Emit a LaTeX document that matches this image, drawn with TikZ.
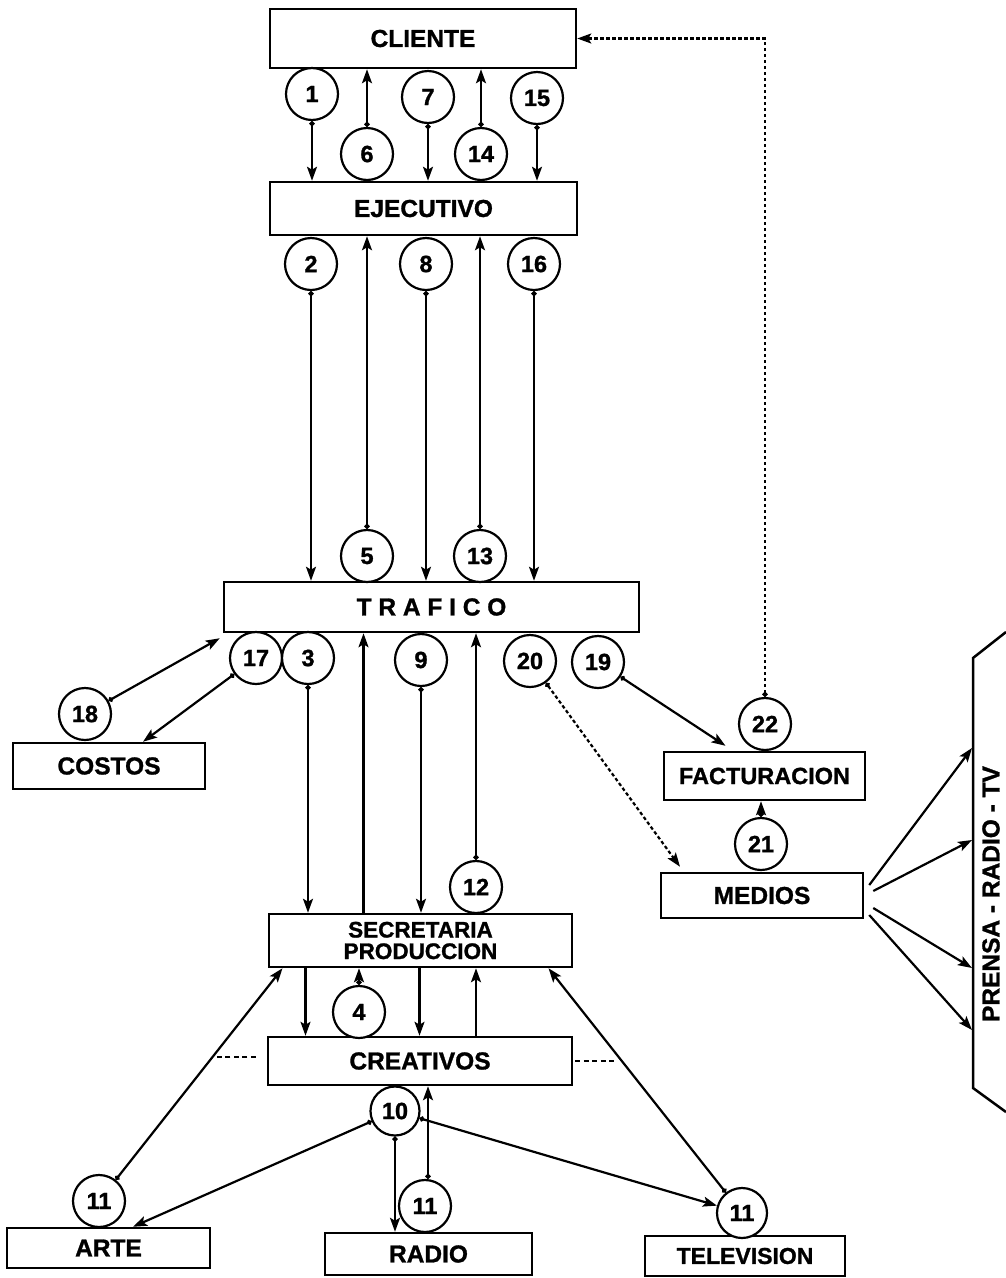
\documentclass[tikz,border=0pt]{standalone}
\usepackage{fontspec}
\setmainfont{Liberation Sans}[BoldFeatures={FakeBold=1.2}]
\usetikzlibrary{arrows.meta,calc}
\begin{document}
\begin{tikzpicture}[x=1pt,y=-1pt,
  box/.style={draw,line width=2.5pt,inner sep=0pt,align=center,font=\bfseries\fontsize{24.5}{24}\selectfont},
  num/.style={draw,circle,fill=white,line width=2.2pt,minimum size=52pt,inner sep=0pt,font=\bfseries\fontsize{23.5}{24}\selectfont},
  arr/.style={line width=2.2pt,{Circle[length=5pt]}-{Stealth[length=14pt,width=10pt,inset=3pt]}},
  arrp/.style={line width=2.2pt,-{Stealth[length=14pt,width=10pt,inset=3pt]}},
  darr/.style={line width=2.2pt,dash pattern=on 3.5pt off 2.5pt,{Circle[length=5pt]}-{Stealth[length=14pt,width=10pt,inset=3pt]}},
  dline/.style={line width=2pt,dash pattern=on 5pt off 3.5pt}
]
\useasboundingbox (0,0) rectangle (1006,1278);

% boxes
\node[box,minimum width=306pt,minimum height=59pt] (cliente) at (423,38.5) {CLIENTE};
\node[box,minimum width=307pt,minimum height=53pt] (ejecutivo) at (423.5,208.5) {EJECUTIVO};
\node[box,minimum width=415pt,minimum height=50pt] (trafico) at (431.5,607) {T R A F I C O};
\node[box,minimum width=192pt,minimum height=46pt] (costos) at (109,766) {COSTOS};
\node[box,minimum width=201pt,minimum height=48pt,font=\bfseries\fontsize{23.5}{24}\selectfont] (facturacion) at (764.5,776) {FACTURACION};
\node[box,minimum width=202pt,minimum height=45pt] (medios) at (762,895.5) {MEDIOS};
\node[box,minimum width=303pt,minimum height=53pt,font=\bfseries\fontsize{22.5}{21.5}\selectfont] (secretaria) at (420.5,940.5) {SECRETARIA\\PRODUCCION};
\node[box,minimum width=304pt,minimum height=48pt] (creativos) at (420,1061) {CREATIVOS};
\node[box,minimum width=203pt,minimum height=40pt] (arte) at (108.5,1248) {ARTE};
\node[box,minimum width=207pt,minimum height=42pt] (radio) at (428.5,1254) {RADIO};
\node[box,minimum width=200pt,minimum height=40pt,font=\bfseries\fontsize{23}{24}\selectfont] (television) at (745,1256) {TELEVISION};

% media box (cut by the page edge)
\draw[line width=2.5pt] (1006,632) -- (973,658) -- (973,1088) -- (1006,1112);
\node[rotate=90,font=\bfseries\fontsize{24.5}{24}\selectfont] (prensa) at (991,894) {PRENSA - RADIO - TV};
\coordinate (p1) at (972,748);
\coordinate (p2) at (972,840);
\coordinate (p3) at (972,968);
\coordinate (p4) at (972,1030);

% circles
\node[num] (c1) at (312,94) {1};
\node[num] (c6) at (367,154) {6};
\node[num] (c7) at (428,97) {7};
\node[num] (c14) at (481,154) {14};
\node[num] (c15) at (537,98) {15};
\node[num] (c2) at (311,264) {2};
\node[num] (c8) at (426,264) {8};
\node[num] (c16) at (534,264) {16};
\node[num] (c5) at (367,556) {5};
\node[num] (c13) at (480,556) {13};
\node[num] (c17) at (256,658) {17};
\node[num] (c3) at (308,658) {3};
\node[num] (c9) at (421,660) {9};
\node[num] (c20) at (530,661) {20};
\node[num] (c19) at (598,662) {19};
\node[num] (c18) at (85,714) {18};
\node[num] (c22) at (765,724) {22};
\node[num] (c21) at (761,844) {21};
\node[num] (c12) at (476,887) {12};
\node[num] (c4) at (359,1012) {4};
\node[num,minimum size=49pt] (c10) at (395,1111) {10};
\node[num] (c11a) at (99,1201) {11};
\node[num] (c11r) at (425,1206) {11};
\node[num,minimum size=50pt] (c11t) at (742,1213) {11};

% cliente - ejecutivo
\draw[arr] (c1) -- (c1 |- ejecutivo.north);
\draw[arr] (c6) -- (c6 |- cliente.south);
\draw[arr] (c7) -- (c7 |- ejecutivo.north);
\draw[arr] (c14) -- (c14 |- cliente.south);
\draw[arr] (c15) -- (c15 |- ejecutivo.north);
% ejecutivo - trafico
\draw[arr] (c2) -- (c2 |- trafico.north);
\draw[arr] (c8) -- (c8 |- trafico.north);
\draw[arr] (c16) -- (c16 |- trafico.north);
\draw[arr] (c5) -- (c5 |- ejecutivo.south);
\draw[arr] (c13) -- (c13 |- ejecutivo.south);
% trafico - secretaria
\draw[arr] (c3) -- (c3 |- secretaria.north);
\draw[arrp] ([xshift=-57pt]secretaria.north) -- ([xshift=-57pt]secretaria.north |- trafico.south);
\draw[arr] (c9) -- (c9 |- secretaria.north);
\draw[arr] (c12) -- (c12 |- trafico.south);
% secretaria - creativos
\draw[arrp] ([xshift=-115pt]secretaria.south) -- ([xshift=-115pt]secretaria.south |- creativos.north);
\draw[arr] (c4) -- (c4 |- secretaria.south);
\draw[arrp] ([xshift=-1pt]secretaria.south) -- ([xshift=-1pt]secretaria.south |- creativos.north);
\draw[arrp] ([xshift=56pt]creativos.north) -- ([xshift=56pt]creativos.north |- secretaria.south);
% dashed stubs
\draw[dline] ([xshift=-11pt,yshift=4pt]creativos.west) -- ([xshift=-51pt,yshift=4pt]creativos.west);
\draw[dline] ([xshift=2pt]creativos.east) -- ([xshift=43pt]creativos.east);
% creativos - bottom
\draw[arr] (c10) -- (c10 |- radio.north);
\draw[arr] ([xshift=3pt]c11r.north) -- ([xshift=3pt]c11r.north |- creativos.south);
\draw[arr] (c10) -- ([xshift=24.5pt]arte.north);
\draw[arr] (c10) -- (c11t);
\draw[arr] (c11a) -- ([xshift=-138pt]secretaria.south);
\draw[arr] (c11t) -- ([xshift=128pt]secretaria.south);
% costos
\draw[arr] (c18) -- ([xshift=-3pt,yshift=-5pt]trafico.south west);
\draw[arr] (c17) -- ([xshift=34pt]costos.north);
% right side
\draw[arr] (c19) -- ([xshift=-39pt,yshift=5pt]facturacion.north);
\draw[arr] (c21) -- (c21 |- facturacion.south);
\draw[darr] (c20) -- ([xshift=-82pt,yshift=5pt]medios.north);
\draw[darr] (c22) |- (cliente.east);
% medios - prensa
\draw[arrp] ([xshift=5pt,yshift=10.5pt]medios.east) -- (p1);
\draw[arrp] ([xshift=9pt,yshift=4.5pt]medios.east) -- (p2);
\draw[arrp] ([xshift=9pt,yshift=-12.5pt]medios.east) -- (p3);
\draw[arrp] ([xshift=5pt,yshift=-19.5pt]medios.east) -- (p4);
\end{tikzpicture}
\end{document}
